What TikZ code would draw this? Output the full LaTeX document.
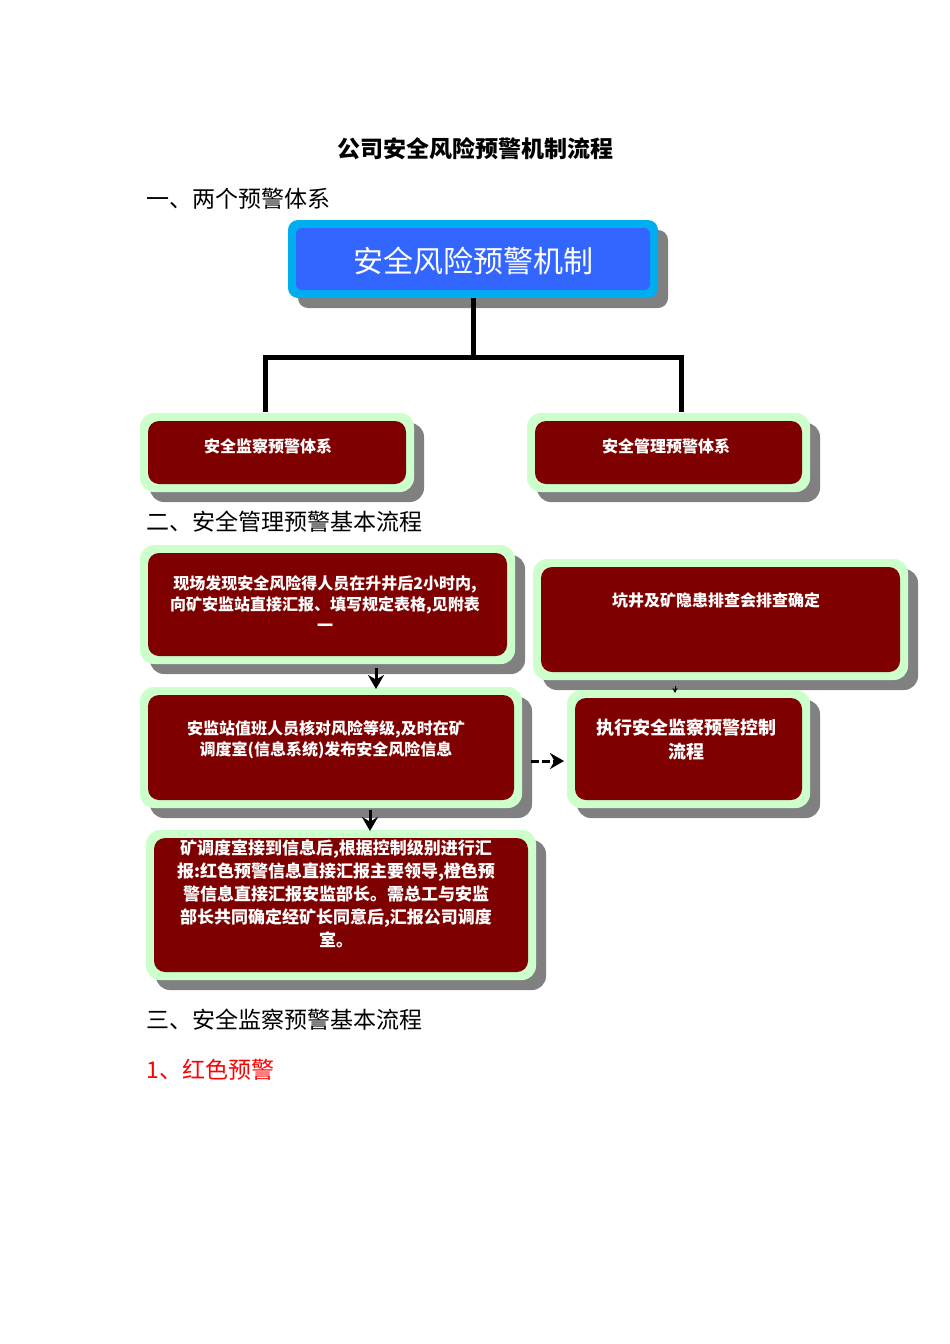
\documentclass[tikz,border=0pt]{standalone}
\usepackage{fontspec}
\setmainfont{Noto Sans CJK SC}
\newfontfamily\cjkb[BoldFont={Noto Sans CJK SC Bold}]{Noto Sans CJK SC}
\usetikzlibrary{arrows.meta}
\definecolor{dred}{HTML}{7F0000}
\definecolor{lgreen}{HTML}{CCFFCC}
\definecolor{shd}{HTML}{808080}
\definecolor{bblue}{HTML}{3366FF}
\tikzset{
  txt/.style={text=white,font=\fontsize{16}{21}\selectfont\bfseries,align=center},
  head/.style={anchor=west,font=\fontsize{23}{27}\selectfont},
  conn/.style={line width=5pt},
  tip/.style={-{Stealth[length=14pt,width=16pt]},line width=3pt},
}
\newcommand{\gbox}[5]{% name, x1,y1,x2,y2 (outer)
  \fill[shd,rounded corners=14pt] (#2+10,#3+10) rectangle (#4+10,#5+10);
  \fill[lgreen,rounded corners=14pt] (#2,#3) rectangle (#4,#5);
  \fill[dred,rounded corners=11pt] (#2+8,#3+8) rectangle (#4-8,#5-8);
  \coordinate (#1) at ({(#2+#4)/2},{(#3+#5)/2});
  \coordinate (#1-n) at ({(#2+#4)/2},#3);
  \coordinate (#1-s) at ({(#2+#4)/2},#5);
  \coordinate (#1-e) at (#4,{(#3+#5)/2});
  \coordinate (#1-w) at (#2,{(#3+#5)/2});
}
\begin{document}
\begin{tikzpicture}[x=1pt,y=-1pt]
\useasboundingbox[fill=white] (0,0) rectangle (950,1344);
\node[font=\fontsize{23}{27}\selectfont\bfseries] (title) at (475,149) {公司安全风险预警机制流程};
\node[head] (h1) at (143,199) {一、两个预警体系};
\node[head] (h2) at (143,522) {二、安全管理预警基本流程};
\node[head] (h3) at (143,1020) {三、安全监察预警基本流程};
\node[head,text=red] (h4) at (143,1070) {1、红色预警};
% top box
\fill[shd,rounded corners=10pt] (298,230) rectangle (668,308);
\fill[cyan,rounded corners=10pt] (288,220) rectangle (658,298);
\fill[bblue,rounded corners=6pt] (296,228) rectangle (650,290);
\node[text=white,font=\fontsize{30}{34}\selectfont] (top) at (473,261) {安全风险预警机制};
\coordinate (tb) at (473,298);
\coordinate (tj) at (473,357);
\coordinate (tl) at (265,357);
\coordinate (tr) at (681,357);
\coordinate (la) at (265,412);
\coordinate (ra) at (681,412);
\draw[conn] (tb) -- (tj);
\draw[conn,line cap=rect] (tl) -- (tr);
\draw[conn] (tl) -- (la);
\draw[conn] (tr) -- (ra);
\gbox{A}{140}{413}{414}{492}
\gbox{B}{527}{413}{810}{492}
\node[txt] (tA) at (268,446) {安全监察预警体系};
\node[txt] (tB) at (666,446) {安全管理预警体系};
\gbox{b1}{140}{545}{515}{664}
\gbox{b2}{533}{559}{908}{680}
\gbox{b3}{140}{687}{522}{808}
\gbox{b4}{567}{690}{810}{808}
\gbox{b5}{146}{830}{536}{980}
\node[txt] (t1) at (325,604) {现场发现安全风险得人员在升井后2小时内,\\向矿安监站直接汇报、填写规定表格,见附表\\一};
\node[txt] (t2) at (716,600) {坑井及矿隐患排查会排查确定};
\node[txt] (t3) at (326,740) {安监站值班人员核对风险等级,及时在矿\\调度室(信息系统)发布安全风险信息};
\node[txt,font=\fontsize{18}{24}\selectfont\bfseries] (t4) at (686,740) {执行安全监察预警控制\\流程};
\node[txt,font=\fontsize{17}{23}\selectfont\bfseries] (t5) at (336,894) {矿调度室接到信息后,根据控制级别进行汇\\报:红色预警信息直接汇报主要领导,橙色预\\警信息直接汇报安监部长。需总工与安监\\部长共同确定经矿长同意后,汇报公司调度\\室。};
\coordinate (a1s) at (376,668);
\coordinate (a1e) at (376,689);
\draw[tip] (a1s) -- (a1e);
\coordinate (a2s) at (370,810);
\coordinate (a2e) at (370,831);
\draw[tip] (a2s) -- (a2e);
\coordinate (a3s) at (531,761);
\coordinate (a3e) at (564,761);
\draw[tip,dashed,dash pattern=on 8pt off 3pt] (a3s) -- (a3e);
\coordinate (a4s) at (675,686);
\coordinate (a4e) at (675,693);
\draw[-{Stealth[length=5pt,width=5pt]},line width=1pt] (a4s) -- (a4e);
\end{tikzpicture}
\end{document}
